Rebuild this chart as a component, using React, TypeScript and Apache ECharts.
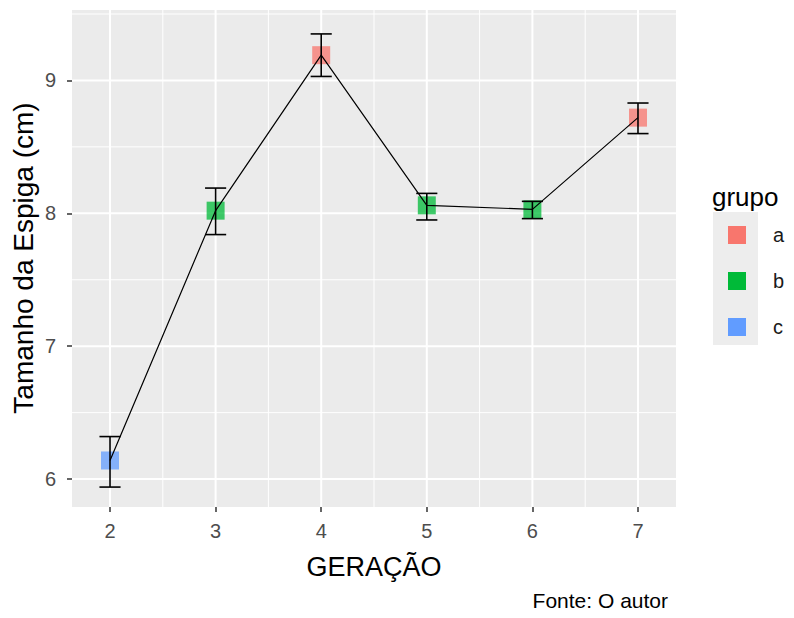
import React, { useEffect, useRef } from "react";
import * as echarts from "echarts";

// ---- data ----
const geracao = [2, 3, 4, 5, 6, 7];
const media = [6.14, 8.02, 9.19, 8.06, 8.03, 8.72];
const erroInf = [5.94, 7.84, 9.03, 7.95, 7.96, 8.6];
const erroSup = [6.32, 8.19, 9.35, 8.15, 8.09, 8.83];
const grupo = ["c", "b", "a", "b", "b", "a"];
const grupos = ["a", "b", "c"];
const coresGrupo = ["#F8766D", "#00BA38", "#619CFF"];
const xTicks = [2, 3, 4, 5, 6, 7];
const xMinor = [2.5, 3.5, 4.5, 5.5, 6.5];
const yTicks = [6, 7, 8, 9];
const yMinor = [6.5, 7.5, 8.5, 9.5];
const errorBarWidth = 0.2;

const FONT = "'Liberation Sans', Arial, sans-serif";

export default function App() {
  const ref = useRef<HTMLDivElement>(null);

  useEffect(() => {
    if (!ref.current) return;
    const chart = echarts.init(ref.current, undefined, { renderer: "svg" });

    const gridData: number[][] = [
      ...xTicks.map((x) => [x, yTicks[0], 0]),
      ...xMinor.map((x) => [x, yTicks[0], 1]),
      ...yTicks.map((y) => [xTicks[0], y, 2]),
      ...yMinor.map((y) => [xTicks[0], y, 3]),
    ];

    const errData = geracao.map((g, i) => [g, erroInf[i], erroSup[i]]);

    const scatterSeries = grupos.map((name, gi) => ({
      type: "scatter",
      name,
      data: geracao
        .map((g, i) => (grupo[i] === name ? [g, media[i]] : null))
        .filter((d) => d !== null),
      symbol: "rect",
      symbolSize: 18,
      itemStyle: { color: coresGrupo[gi], opacity: 0.75 },
      z: 2,
      silent: true,
    }));

    const option: any = {
      animation: false,
      backgroundColor: "#FFFFFF",
      textStyle: { fontFamily: FONT },
      grid: {
        left: 72,
        top: 10,
        width: 604,
        height: 497,
        show: true,
        backgroundColor: "#EBEBEB",
        borderWidth: 0,
      },
      xAxis: {
        type: "value",
        min: 1.64,
        max: 7.36,
        axisLine: { show: false },
        splitLine: { show: false },
        axisTick: {
          show: true,
          length: 5,
          lineStyle: { color: "#333333", width: 1.5 },
          customValues: xTicks,
        },
        axisLabel: {
          customValues: xTicks,
          color: "#4D4D4D",
          fontSize: 20,
          fontFamily: FONT,
          margin: 14,
        },
      },
      yAxis: {
        type: "value",
        min: 5.79,
        max: 9.53,
        axisLine: { show: false },
        splitLine: { show: false },
        axisTick: {
          show: true,
          length: 5,
          lineStyle: { color: "#333333", width: 1.5 },
          customValues: yTicks,
        },
        axisLabel: {
          customValues: yTicks,
          color: "#4D4D4D",
          fontSize: 20,
          fontFamily: FONT,
          margin: 16,
        },
      },
      legend: {
        orient: "vertical",
        left: 728,
        top: 225,
        padding: 0,
        itemWidth: 18,
        itemHeight: 18,
        itemGap: 26,
        icon: "rect",
        data: grupos.map((g, i) => ({
          name: g,
          itemStyle: { color: coresGrupo[i], opacity: 1 },
        })),
        textStyle: {
          fontSize: 20,
          color: "#1A1A1A",
          fontFamily: FONT,
          lineHeight: 18,
          padding: [0, 0, 0, 22],
        },
        selectedMode: false,
      },
      graphic: [
        {
          type: "rect",
          shape: { x: 713, y: 212, width: 45, height: 133 },
          style: { fill: "#EDEDED" },
          z: -1,
        },
        {
          type: "text",
          x: 712,
          y: 197,
          style: {
            text: "grupo",
            font: `26px ${FONT}`,
            fill: "#000000",
            textAlign: "left",
            textVerticalAlign: "middle",
          },
        },
        {
          type: "text",
          x: 374,
          y: 567,
          style: {
            text: "GERAÇÃO",
            font: `27px ${FONT}`,
            fill: "#000000",
            textAlign: "center",
            textVerticalAlign: "middle",
          },
        },
        {
          type: "text",
          x: 23,
          y: 258,
          rotation: Math.PI / 2,
          style: {
            text: "Tamanho da Espiga (cm)",
            font: `28px ${FONT}`,
            fill: "#000000",
            textAlign: "center",
            textVerticalAlign: "middle",
          },
        },
        {
          type: "text",
          x: 668,
          y: 600,
          style: {
            text: "Fonte: O autor",
            font: `21px ${FONT}`,
            fill: "#000000",
            textAlign: "right",
            textVerticalAlign: "middle",
          },
        },
      ],
      series: [
        {
          type: "custom",
          name: "grade",
          silent: true,
          z: 1,
          data: gridData,
          renderItem: (params: any, api: any) => {
            const cs = params.coordSys;
            const kind = api.value(2);
            if (kind < 2) {
              const px = api.coord([api.value(0), api.value(1)])[0];
              return {
                type: "line",
                shape: { x1: px, y1: cs.y, x2: px, y2: cs.y + cs.height },
                style: { stroke: "#FFFFFF", lineWidth: kind === 0 ? 2 : 1 },
              };
            }
            const py = api.coord([api.value(0), api.value(1)])[1];
            return {
              type: "line",
              shape: { x1: cs.x, y1: py, x2: cs.x + cs.width, y2: py },
              style: { stroke: "#FFFFFF", lineWidth: kind === 2 ? 2 : 1 },
            };
          },
        },
        ...scatterSeries,
        {
          type: "line",
          name: "linha",
          data: geracao.map((g, i) => [g, media[i]]),
          symbol: "none",
          lineStyle: { color: "#000000", width: 1.2 },
          z: 3,
          silent: true,
        },
        {
          type: "custom",
          name: "erro",
          silent: true,
          z: 4,
          data: errData,
          renderItem: (params: any, api: any) => {
            const x = api.value(0);
            const lo = api.value(1);
            const hi = api.value(2);
            const half = errorBarWidth / 2;
            const top = api.coord([x, hi]);
            const bot = api.coord([x, lo]);
            const tl = api.coord([x - half, hi]);
            const tr = api.coord([x + half, hi]);
            const bl = api.coord([x - half, lo]);
            const br = api.coord([x + half, lo]);
            const st = { stroke: "#000000", lineWidth: 1.6 };
            return {
              type: "group",
              children: [
                { type: "line", shape: { x1: top[0], y1: top[1], x2: bot[0], y2: bot[1] }, style: st },
                { type: "line", shape: { x1: tl[0], y1: tl[1], x2: tr[0], y2: tr[1] }, style: st },
                { type: "line", shape: { x1: bl[0], y1: bl[1], x2: br[0], y2: br[1] }, style: st },
              ],
            };
          },
        },
      ],
    };

    chart.setOption(option);
    return () => chart.dispose();
  }, []);

  return (
    <div
      ref={ref}
      style={{ position: "absolute", left: 0, top: 0, width: 794, height: 618 }}
    />
  );
}
